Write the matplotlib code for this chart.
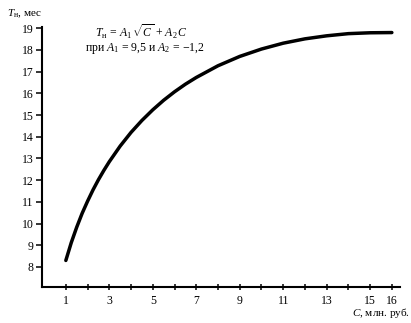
import matplotlib
matplotlib.use("Agg")
import matplotlib.pyplot as plt

plt.rcParams["font.family"] = ["Liberation Serif", "DejaVu Serif"]
plt.rcParams["mathtext.fontset"] = "custom"
plt.rcParams["mathtext.rm"] = "Liberation Serif"
plt.rcParams["mathtext.it"] = "Liberation Serif:italic"

# values
cost = [1, 1.25, 1.5, 1.75, 2, 2.25, 2.5, 2.75, 3, 3.5, 4, 4.5, 5, 5.5, 6,
        6.5, 7, 8, 9, 10, 11, 12, 13, 14, 15, 16]
months = [8.3, 9.12, 9.83, 10.47, 11.03, 11.55, 12.02, 12.45, 12.85, 13.57,
          14.2, 14.75, 15.24, 15.68, 16.07, 16.42, 16.73, 17.27, 17.7, 18.04,
          18.31, 18.51, 18.65, 18.75, 18.79, 18.8]

x_ticks = list(range(1, 17))
x_labels = ["1", "", "3", "", "5", "", "7", "", "9", "", "11", "", "13", "", "15", "16"]
y_ticks = list(range(8, 20))

fig = plt.figure(figsize=(4.11, 3.23), dpi=100)
ax = fig.add_axes([0.102, 0.111, 0.871, 0.805])

ax.plot(cost, months, color="black", linewidth=2.5,
        solid_capstyle="round", solid_joinstyle="round")

ax.set_xlim(-0.1, 16.37)
ax.set_ylim(7.07, 19.05)
ax.set_xticks(x_ticks)
ax.set_xticklabels(x_labels)
ax.set_yticks(y_ticks)

for side in ("top", "right"):
    ax.spines[side].set_visible(False)
for side in ("left", "bottom"):
    ax.spines[side].set_linewidth(1.5)
ax.tick_params(axis="x", direction="inout", length=5, width=1.1, labelsize=8.5, pad=3)
ax.tick_params(axis="y", direction="out", length=4, width=1.1, labelsize=8.5, pad=2)

fig.text(7 / 411, 1 - 14 / 323, r"$T_{\mathrm{н}}$, мес", fontsize=8,
         ha="left", va="center")
fig.text(141 / 411, 1 - 32 / 323,
         r"$T_{\mathrm{н}}\,=\,A_1\,\sqrt{C}\,+\,A_2\,C$", fontsize=8.5,
         ha="center", va="center")
fig.text(145 / 411, 1 - 48 / 323,
         r"при $A_1\,=\,9{,}5$ и $A_2\,=\,{-}1{,}2$", fontsize=8.5,
         ha="center", va="center")
fig.text(410 / 411, 1 - 313 / 323, r"$C$, млн. руб.", fontsize=8,
         ha="right", va="center")

fig.savefig("out.png", dpi=100)
